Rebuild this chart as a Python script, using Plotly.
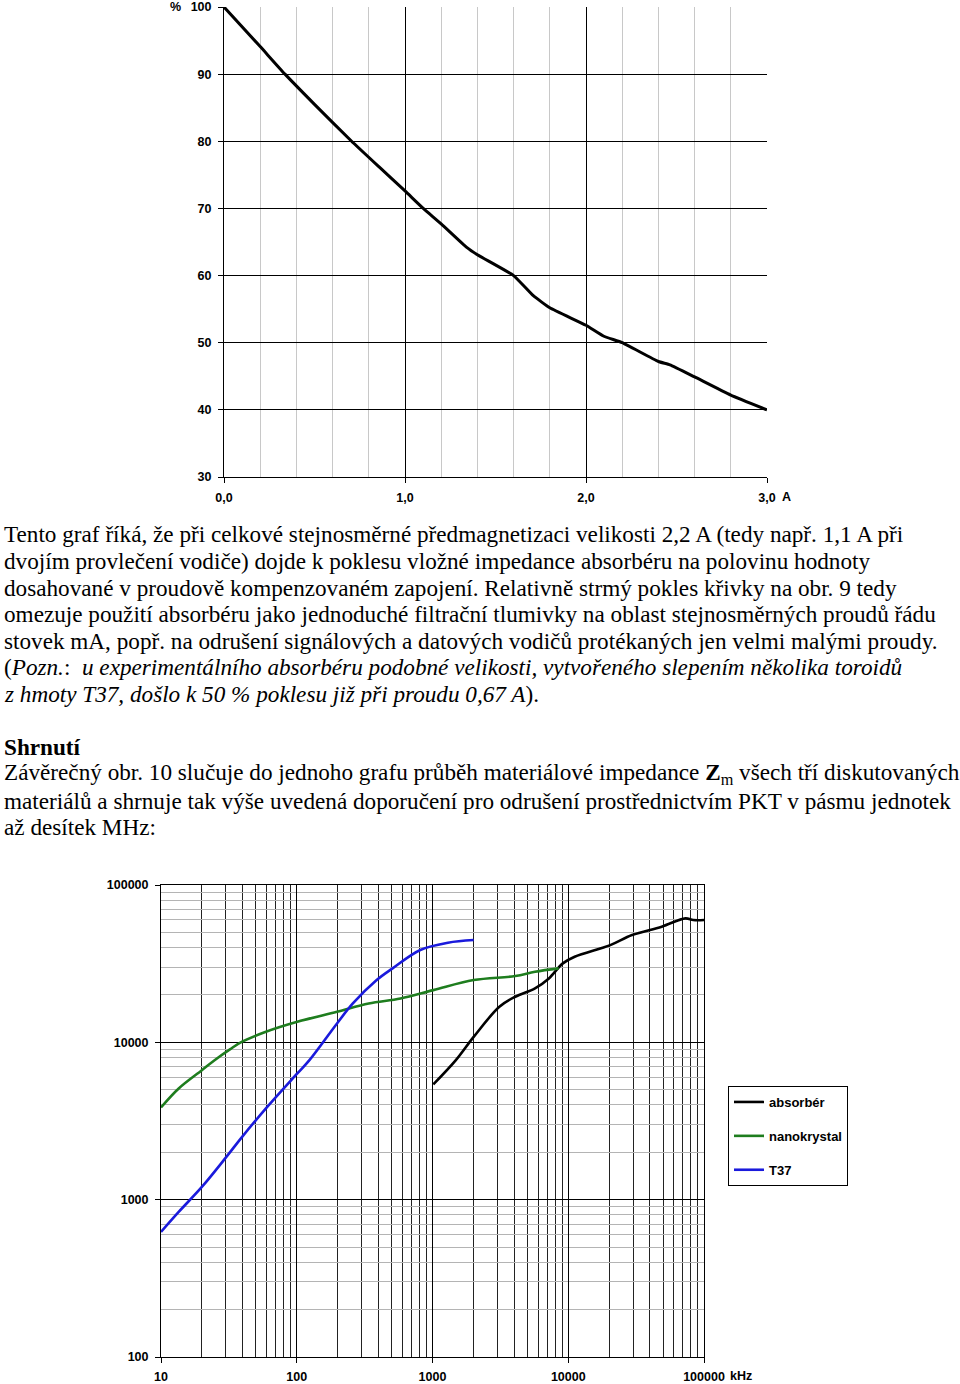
import plotly.graph_objects as go

W, H = 960, 1384

# ---------- top chart data (percent vs current) ----------
current_A = [0.0, 0.2, 0.337, 0.5, 0.705, 0.86, 1.0, 1.101, 1.2, 1.341, 1.4, 1.6, 1.709,
             1.8, 2.0, 2.096, 2.2, 2.4, 2.464, 2.6, 2.8, 3.0]
percent = [100.0, 94.1, 90.0, 85.5, 80.0, 76.1, 72.6, 70.0, 67.7, 64.2, 63.1, 60.0, 57.0,
           55.2, 52.6, 51.0, 50.0, 47.2, 46.7, 44.9, 42.2, 40.0]
top_x_ticks = [0, 1, 2, 3]
top_x_labels = ["0,0", "1,0", "2,0", "3,0"]
top_y_ticks = [30, 40, 50, 60, 70, 80, 90, 100]

# ---------- bottom chart data (impedance vs frequency) ----------
nano_f = [10, 13.5, 20, 24.8, 32.4, 39.6, 59.3, 101, 198, 339, 581, 1014, 2010, 4070, 5690, 8510]
nano_z = [3855, 5093, 6653, 7700, 9060, 10090, 11680, 13520, 15640, 17660, 19010, 21470,
          24880, 26380, 28100, 29510]
t37_f = [10, 13.5, 20, 30.3, 39.6, 59.3, 101, 124, 198, 259, 388, 508, 813, 1300, 2010]
t37_z = [624, 836, 1205, 1870, 2507, 3800, 6340, 7700, 13180, 17660, 24880, 29510, 38640,
         42990, 44670]
abs_f = [1014, 1486, 2010, 3110, 4070, 5690, 7200, 9120, 11150, 20400, 29500, 48800,
         72900, 83400, 100000]
abs_z = [5400, 7700, 10830, 16820, 19480, 22030, 25470, 31760, 35000, 41500, 48050,
         54330, 61340, 59860, 59860]
bot_x_ticks = [10, 100, 1000, 10000, 100000]
bot_x_labels = ["10", "100", "1000", "10000", "100000"]
bot_y_ticks = [100, 1000, 10000, 100000]
bot_y_labels = ["100", "1000", "10000", "100000"]
series_names = ["absorbér", "nanokrystal", "T37"]
series_colors = ["#000000", "#1e7d1e", "#1a1adc"]

TICKFONT = dict(family="Liberation Sans Narrow, Arial Narrow, Liberation Sans, Arial, sans-serif",
                size=12.5, color="black", weight="bold")


def px(x):
    return x / W


def py(y):
    return 1 - y / H


fig = go.Figure()

fig.add_trace(go.Scatter(x=current_A, y=percent, mode="lines", line=dict(color="black", width=3),
                         line_shape="spline", line_smoothing=0.4, showlegend=False,
                         xaxis="x", yaxis="y"))

for name, color, fx, zy in zip(series_names, series_colors, [abs_f, nano_f, t37_f], [abs_z, nano_z, t37_z]):
    fig.add_trace(go.Scatter(x=fx, y=zy, mode="lines", name=name, legendgroup=name,
                             line=dict(color=color, width=2.6), line_shape="spline",
                             xaxis="x2", yaxis="y2"))

common = dict(showgrid=True, gridcolor="black", gridwidth=1, zeroline=False,
              showline=True, linecolor="black", linewidth=1, automargin=False,
              ticks="outside", ticklen=5, tickcolor="black", tickfont=TICKFONT,
              fixedrange=True)

fig.update_layout(
    width=W, height=H, margin=dict(l=0, r=0, t=0, b=0, autoexpand=False),
    paper_bgcolor="white", plot_bgcolor="white",
    xaxis=dict(domain=[px(224), px(767)], range=[0, 3], tickvals=top_x_ticks, ticktext=top_x_labels,
               ticklabelstandoff=4,
               minor=dict(dtick=0.2, showgrid=True, gridcolor="#c8c8c8", gridwidth=1, ticks=""),
               anchor="y", **common),
    yaxis=dict(domain=[py(477), py(7)], range=[30, 100], tickvals=top_y_ticks,
               ticklabelstandoff=4, anchor="x", **common),
    xaxis2=dict(domain=[px(161), px(704)], type="log", range=[1, 5], tickvals=bot_x_ticks,
                ticktext=bot_x_labels, mirror=True, ticklabelstandoff=3,
                minor=dict(dtick="D1", showgrid=True, gridcolor="#222222", gridwidth=1, ticks=""),
                anchor="y2", **common),
    yaxis2=dict(domain=[py(1357), py(885)], type="log", range=[2, 5], tickvals=bot_y_ticks,
                ticktext=bot_y_labels, mirror=True, ticklabelstandoff=4,
                minor=dict(dtick="D1", showgrid=True, gridcolor="#b4b4b4", gridwidth=1, ticks=""),
                anchor="x2", **common),
    legend=dict(x=px(728), y=py(1086), xanchor="left", yanchor="top",
                bordercolor="black", borderwidth=1, bgcolor="white",
                font=dict(family=TICKFONT["family"], size=13, color="black", weight="bold"),
                tracegroupgap=14, itemwidth=30),
    showlegend=True,
)

ann = []
# axis unit labels
ann.append(dict(x=px(175), y=py(7), xref="paper", yref="paper", text="%", showarrow=False,
                font=TICKFONT, xanchor="center", yanchor="middle"))
ann.append(dict(x=px(786), y=py(497), xref="paper", yref="paper", text="A", showarrow=False,
                font=TICKFONT, xanchor="center", yanchor="middle"))
ann.append(dict(x=px(741), y=py(1376), xref="paper", yref="paper", text="kHz", showarrow=False,
                font=TICKFONT, xanchor="center", yanchor="middle"))

SERIF = "Liberation Serif, Times New Roman, serif"
text_lines = [
    (534, "Tento graf říká, že při celkové stejnosměrné předmagnetizaci velikosti 2,2 A (tedy např. 1,1 A při"),
    (561, "dvojím provlečení vodiče) dojde k poklesu vložné impedance absorbéru na polovinu hodnoty"),
    (588, "dosahované v proudově kompenzovaném zapojení. Relativně strmý pokles křivky na obr. 9 tedy"),
    (614, "omezuje použití absorbéru jako jednoduché filtrační tlumivky na oblast stejnosměrných proudů řádu"),
    (641, "stovek mA, popř. na odrušení signálových a datových vodičů protékaných jen velmi malými proudy."),
    (667, "(<i>Pozn.</i>:  <i>u experimentálního absorbéru podobné velikosti, vytvořeného slepením několika toroidů</i>"),
    (694, "<i>z hmoty T37, došlo k 50 % poklesu již při proudu 0,67 A</i>)."),
    (747, "<b>Shrnutí</b>"),
    (774, "Závěrečný obr. 10 slučuje do jednoho grafu průběh materiálové impedance <b>Z</b><sub>m</sub> všech tří diskutovaných"),
    (801, "materiálů a shrnuje tak výše uvedená doporučení pro odrušení prostřednictvím PKT v pásmu jednotek"),
    (827, "až desítek MHz:"),
]
for yy, t in text_lines:
    ann.append(dict(x=px(2), y=py(yy), xref="paper", yref="paper", text=t, showarrow=False,
                    xanchor="left", yanchor="middle", align="left",
                    font=dict(family=SERIF, size=23.2, color="black")))

fig.update_layout(annotations=ann)
fig.write_html("out.html", config={"displayModeBar": False},
               post_script="document.body.style.margin='0';document.body.style.padding='0';")
